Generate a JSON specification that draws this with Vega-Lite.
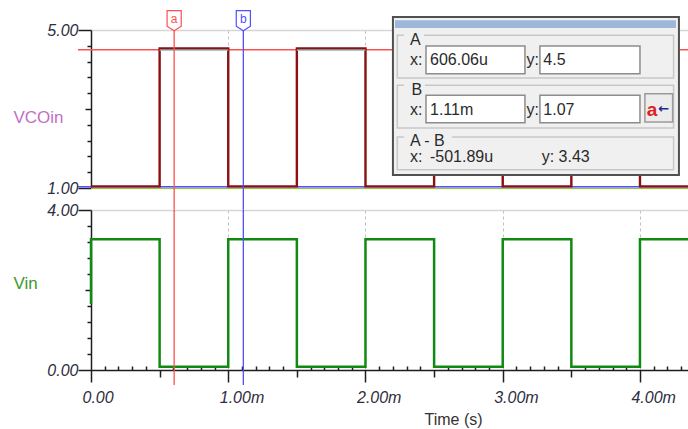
{
  "$schema": "https://vega.github.io/schema/vega-lite/v6.json",
  "background": "white",
  "padding": {"left": 13, "top": 8, "right": 0, "bottom": 2},
  "bounds": "flush",
  "spacing": 22,
  "config": {
    "view": {"stroke": null},
    "font": "Liberation Sans",
    "axis": {
      "labelFont": "Liberation Sans",
      "labelFontSize": 16,
      "labelFontStyle": "italic",
      "labelColor": "#2e2e3e",
      "titleFont": "Liberation Sans",
      "titleFontWeight": "normal",
      "domainColor": "#1e1e1e",
      "domainWidth": 1.5,
      "tickColor": "#1e1e1e",
      "tickWidth": 1.5,
      "labelOverlap": false,
      "labelFlush": false
    }
  },
  "datasets": {
    "vco": [
      {"t": 0, "v": 1.04}, {"t": 0.5, "v": 4.53}, {"t": 1.0, "v": 1.04}, {"t": 1.5, "v": 4.53},
      {"t": 2.0, "v": 1.04}, {"t": 2.5, "v": 4.53}, {"t": 3.0, "v": 1.04}, {"t": 3.5, "v": 4.53},
      {"t": 4.0, "v": 1.04}, {"t": 4.35, "v": 1.04}
    ],
    "vin": [
      {"i": 0, "t": 0, "v": 1.65}, {"i": 1, "t": 0, "v": 3.27}, {"i": 2, "t": 0.5, "v": 0.08},
      {"i": 3, "t": 1.0, "v": 3.27}, {"i": 4, "t": 1.5, "v": 0.08}, {"i": 5, "t": 2.0, "v": 3.27},
      {"i": 6, "t": 2.5, "v": 0.08}, {"i": 7, "t": 3.0, "v": 3.27}, {"i": 8, "t": 3.5, "v": 0.08},
      {"i": 9, "t": 4.0, "v": 3.27}, {"i": 10, "t": 4.35, "v": 3.27}
    ],
    "cyan": [
      {"s": 1, "t": 0.5, "v": 4.49}, {"s": 1, "t": 1.0, "v": 4.49},
      {"s": 2, "t": 1.5, "v": 4.49}, {"s": 2, "t": 2.0, "v": 4.49},
      {"s": 3, "t": 2.5, "v": 4.49}, {"s": 3, "t": 3.0, "v": 4.49},
      {"s": 4, "t": 3.5, "v": 4.49}, {"s": 4, "t": 4.0, "v": 4.49}
    ],
    "green": [{"t": 0, "v": 0.99}, {"t": 4.35, "v": 0.99}],
    "curs": [{"c": "a", "t": 0.606}, {"c": "b", "t": 1.11}],
    "hcur": [
      {"c": "a", "t0": -0.095, "t1": 4.35, "v": 4.5},
      {"c": "b", "t0": -0.095, "t1": 4.35, "v": 1.03}
    ],
    "dlg_outer": [{"x": 2.2, "x2": 4.284, "y": 5.329, "y2": 1.329}],
    "dlg_bar": [{"x": 2.215, "x2": 4.262, "y": 5.246, "y2": 5.051}],
    "dlg_group": [
      {"x": 2.232, "x2": 4.245, "y": 4.866, "y2": 3.785},
      {"x": 2.232, "x2": 4.245, "y": 3.6, "y2": 2.519},
      {"x": 2.232, "x2": 4.245, "y": 2.291, "y2": 1.463}
    ],
    "dlg_lblbg": [
      {"x": 2.28, "x2": 2.426, "y": 4.949, "y2": 4.772},
      {"x": 2.28, "x2": 2.433, "y": 3.684, "y2": 3.506},
      {"x": 2.28, "x2": 2.63, "y": 2.392, "y2": 2.19}
    ],
    "dlg_box": [
      {"x": 2.441, "x2": 3.162, "y": 4.595, "y2": 3.894},
      {"x": 3.271, "x2": 4.0, "y": 4.595, "y2": 3.894},
      {"x": 2.441, "x2": 3.162, "y": 3.347, "y2": 2.654},
      {"x": 3.271, "x2": 4.0, "y": 3.347, "y2": 2.654}
    ],
    "dlg_btn": [{"x": 4.036, "x2": 4.238, "y": 3.388, "y2": 2.671}],
    "dlg_text": [
      {"x": 2.324, "y": 4.747, "s": "A"},
      {"x": 2.324, "y": 4.253, "s": "x:"},
      {"x": 2.47, "y": 4.253, "s": "606.06u"},
      {"x": 3.174, "y": 4.253, "s": "y:"},
      {"x": 3.296, "y": 4.253, "s": "4.5"},
      {"x": 2.336, "y": 3.481, "s": "B"},
      {"x": 2.324, "y": 2.987, "s": "x:"},
      {"x": 2.47, "y": 2.987, "s": "1.11m"},
      {"x": 3.174, "y": 2.987, "s": "y:"},
      {"x": 3.296, "y": 2.987, "s": "1.07"},
      {"x": 2.324, "y": 2.19, "s": "A - B"},
      {"x": 2.324, "y": 1.785, "s": "x:"},
      {"x": 2.47, "y": 1.785, "s": "-501.89u"},
      {"x": 3.284, "y": 1.785, "s": "y: 3.43"}
    ],
    "dlg_btn_a": [{"x": 4.049, "y": 2.987, "s": "a"}],
    "dlg_btn_arrow": [{"x": 4.134, "y": 2.99, "s": "←"}]
  },
  "vconcat": [
    {
      "width": 597,
      "height": 158,
      "layer": [
        {
          "data": {"name": "green"},
          "mark": {"type": "line", "color": "#9cc23c", "strokeWidth": 1.3},
          "encoding": {
            "x": {
              "field": "t", "type": "quantitative",
              "scale": {"domain": [0, 4.35], "nice": false, "zero": false},
              "axis": {
                "values": [1, 2, 3, 4], "tickCount": 100, "labels": false, "ticks": false, "domain": false,
                "grid": true, "gridDash": [3, 3], "gridColor": "#c0c0c0", "gridWidth": 1, "title": null
              }
            },
            "y": {
              "field": "v", "type": "quantitative",
              "scale": {"domain": [1, 5], "nice": false, "zero": false},
              "axis": {
                "values": [1, 1.4, 1.8, 2.2, 2.6, 3, 3.4, 3.8, 4.2, 4.6, 5],
                "tickCount": 100,
                "labelExpr": "(datum.value==1||datum.value==5) ? format(datum.value,'.2f') : ''",
                "labelOverlap": false, "labelBound": false,
                "tickSize": {"condition": [{"test": "datum.value==1||datum.value==5", "value": 13}, {"test": "datum.value==3", "value": 6}], "value": 4},
                "labelPadding": 0,
                "labelBaseline": "middle",
                "grid": true, "gridColor": "#d6d6d6", "gridWidth": 1.5,
                "gridOpacity": {"condition": {"test": "datum.value==1||datum.value==5", "value": 1}, "value": 0},
                "title": "VCOin", "titleAngle": 0, "titleAlign": "left", "titleBaseline": "middle",
                "titleX": -78, "titleY": 87, "titleColor": "#c46ec4", "titleFontSize": 17
              }
            }
          }
        },
        {
          "data": {"name": "hcur"},
          "mark": {"type": "rule", "strokeWidth": 1.5, "clip": false},
          "encoding": {
            "x": {"field": "t0", "type": "quantitative"},
            "x2": {"field": "t1"},
            "y": {"field": "v", "type": "quantitative"},
            "color": {"field": "c", "type": "nominal", "scale": {"domain": ["a", "b"], "range": ["#ff5050", "#5050ff"]}, "legend": null}
          }
        },
        {
          "data": {"name": "vco"},
          "mark": {"type": "line", "interpolate": "step-after", "color": "#8b1010", "strokeWidth": 2.4},
          "encoding": {
            "x": {"field": "t", "type": "quantitative"},
            "y": {"field": "v", "type": "quantitative"}
          }
        },
        {
          "data": {"name": "cyan"},
          "mark": {"type": "line", "color": "#8ad6d6", "strokeWidth": 1.3},
          "encoding": {
            "x": {"field": "t", "type": "quantitative"},
            "y": {"field": "v", "type": "quantitative"},
            "detail": {"field": "s", "type": "nominal"}
          }
        },
        {
          "data": {"name": "curs"},
          "mark": {"type": "rule", "strokeWidth": 1.3, "clip": false},
          "encoding": {
            "x": {"field": "t", "type": "quantitative"},
            "y": {"datum": 5.2, "type": "quantitative"},
            "y2": {"datum": 0.39},
            "color": {"field": "c", "type": "nominal", "scale": {"domain": ["a", "b"], "range": ["#ff5050", "#5050ff"]}, "legend": null}
          }
        },
        {
          "data": {"name": "curs"},
          "mark": {"type": "point", "shape": "M-1,-1.45L1,-1.45L1,0.75L0,1.4L-1,0.75Z", "size": 200, "filled": true, "fill": "white", "strokeWidth": 1.2, "opacity": 1, "clip": false},
          "encoding": {
            "x": {"field": "t", "type": "quantitative"},
            "y": {"datum": 5.23, "type": "quantitative"},
            "stroke": {"field": "c", "type": "nominal", "scale": {"domain": ["a", "b"], "range": ["#ff5050", "#5050ff"]}, "legend": null}
          }
        },
        {
          "data": {"name": "curs"},
          "mark": {"type": "text", "fontSize": 12, "align": "center", "baseline": "middle", "clip": false},
          "encoding": {
            "x": {"field": "t", "type": "quantitative"},
            "y": {"datum": 5.275, "type": "quantitative"},
            "text": {"field": "c"},
            "color": {"field": "c", "type": "nominal", "scale": {"domain": ["a", "b"], "range": ["#ff6060", "#5050ff"]}, "legend": null}
          }
        },
        {
          "data": {"name": "dlg_outer"},
          "mark": {"type": "rect", "fill": "#f0f0f0", "stroke": "#505050", "strokeWidth": 2, "clip": false},
          "encoding": {
            "x": {"field": "x", "type": "quantitative"}, "x2": {"field": "x2"},
            "y": {"field": "y", "type": "quantitative"}, "y2": {"field": "y2"}
          }
        },
        {
          "data": {"name": "dlg_bar"},
          "mark": {"type": "rect", "fill": "#9db7da", "clip": false},
          "encoding": {
            "x": {"field": "x", "type": "quantitative"}, "x2": {"field": "x2"},
            "y": {"field": "y", "type": "quantitative"}, "y2": {"field": "y2"}
          }
        },
        {
          "data": {"name": "dlg_group"},
          "mark": {"type": "rect", "fill": "#f0f0f0", "stroke": "#c8c8c8", "strokeWidth": 1.5},
          "encoding": {
            "x": {"field": "x", "type": "quantitative"}, "x2": {"field": "x2"},
            "y": {"field": "y", "type": "quantitative"}, "y2": {"field": "y2"}
          }
        },
        {
          "data": {"name": "dlg_lblbg"},
          "mark": {"type": "rect", "fill": "#f0f0f0"},
          "encoding": {
            "x": {"field": "x", "type": "quantitative"}, "x2": {"field": "x2"},
            "y": {"field": "y", "type": "quantitative"}, "y2": {"field": "y2"}
          }
        },
        {
          "data": {"name": "dlg_box"},
          "mark": {"type": "rect", "fill": "white", "stroke": "#8c8c8c", "strokeWidth": 1.5},
          "encoding": {
            "x": {"field": "x", "type": "quantitative"}, "x2": {"field": "x2"},
            "y": {"field": "y", "type": "quantitative"}, "y2": {"field": "y2"}
          }
        },
        {
          "data": {"name": "dlg_btn"},
          "mark": {"type": "rect", "fill": "#ececec", "stroke": "#9a9a9a", "strokeWidth": 1.5},
          "encoding": {
            "x": {"field": "x", "type": "quantitative"}, "x2": {"field": "x2"},
            "y": {"field": "y", "type": "quantitative"}, "y2": {"field": "y2"}
          }
        },
        {
          "data": {"name": "dlg_text"},
          "mark": {"type": "text", "align": "left", "baseline": "middle", "fontSize": 16, "color": "#2a2a2a", "font": "Liberation Sans"},
          "encoding": {
            "x": {"field": "x", "type": "quantitative"},
            "y": {"field": "y", "type": "quantitative"},
            "text": {"field": "s"}
          }
        },
        {
          "data": {"name": "dlg_btn_a"},
          "mark": {"type": "text", "align": "left", "baseline": "middle", "fontSize": 19, "fontWeight": "bold", "color": "#e02020", "font": "Liberation Sans"},
          "encoding": {
            "x": {"field": "x", "type": "quantitative"},
            "y": {"field": "y", "type": "quantitative"},
            "text": {"field": "s"}
          }
        },
        {
          "data": {"name": "dlg_btn_arrow"},
          "mark": {"type": "text", "align": "left", "baseline": "middle", "fontSize": 13, "fontWeight": "bold", "color": "#1a2a8a", "font": "DejaVu Sans"},
          "encoding": {
            "x": {"field": "x", "type": "quantitative"},
            "y": {"field": "y", "type": "quantitative"},
            "text": {"field": "s"}
          }
        }
      ]
    },
    {
      "width": 597,
      "height": 160,
      "layer": [
        {
          "data": {"name": "vin"},
          "mark": {"type": "line", "interpolate": "step-after", "color": "#128a12", "strokeWidth": 2.5},
          "encoding": {
            "x": {
              "field": "t", "type": "quantitative",
              "scale": {"domain": [0, 4.35], "nice": false, "zero": false},
              "axis": {
                "values": [0, 0.1, 0.2, 0.3, 0.4, 0.5, 0.6, 0.7, 0.8, 0.9, 1, 1.1, 1.2, 1.3, 1.4, 1.5, 1.6, 1.7, 1.8, 1.9, 2, 2.1, 2.2, 2.3, 2.4, 2.5, 2.6, 2.7, 2.8, 2.9, 3, 3.1, 3.2, 3.3, 3.4, 3.5, 3.6, 3.7, 3.8, 3.9, 4, 4.1, 4.2, 4.3],
                "tickCount": 100,
                "labelExpr": "abs(datum.value-round(datum.value))<0.001 ? (datum.value==0 ? '0.00' : format(datum.value,'.2f')+'m') : ''",
                "labelOverlap": false, "labelBound": false,
                "labelAlign": "left", "labelOffset": -9, "labelBaseline": "top", "labelPadding": 7,
                "tickSize": {"condition": [{"test": "abs(datum.value-round(datum.value))<0.001", "value": 12}, {"test": "abs(datum.value*2-round(datum.value*2))<0.001", "value": 7}], "value": -4},
                "grid": true, "gridDash": [3, 3], "gridColor": "#c0c0c0", "gridWidth": 1,
                "gridOpacity": {"condition": {"test": "abs(datum.value-round(datum.value))<0.001 && datum.value>0", "value": 1}, "value": 0},
                "title": "Time (s)", "titleX": 362, "titleY": 54, "titleAlign": "center", "titleBaseline": "alphabetic",
                "titleFontSize": 16, "titleColor": "#333333"
              }
            },
            "y": {
              "field": "v", "type": "quantitative",
              "scale": {"domain": [0, 4], "nice": false, "zero": false},
              "axis": {
                "values": [0, 0.4, 0.8, 1.2, 1.6, 2, 2.4, 2.8, 3.2, 3.6, 4],
                "tickCount": 100,
                "labelExpr": "(datum.value==0||datum.value==4) ? format(datum.value,'.2f') : ''",
                "labelOverlap": false, "labelBound": false,
                "tickSize": {"condition": [{"test": "datum.value==0||datum.value==4", "value": 13}, {"test": "datum.value==2", "value": 6}], "value": 4},
                "labelPadding": 0,
                "labelBaseline": "middle",
                "grid": true, "gridColor": "#d6d6d6", "gridWidth": 1.5,
                "gridOpacity": {"condition": {"test": "datum.value==4", "value": 1}, "value": 0},
                "title": "Vin", "titleAngle": 0, "titleAlign": "left", "titleBaseline": "middle",
                "titleX": -78, "titleY": 73, "titleColor": "#3a9a2a", "titleFontSize": 17
              }
            },
            "order": {"field": "i", "type": "quantitative"}
          }
        },
        {
          "data": {"name": "curs"},
          "mark": {"type": "rule", "strokeWidth": 1.3, "clip": false},
          "encoding": {
            "x": {"field": "t", "type": "quantitative"},
            "y": {"datum": 4, "type": "quantitative"},
            "y2": {"datum": -0.375},
            "color": {"field": "c", "type": "nominal", "scale": {"domain": ["a", "b"], "range": ["#ff5050", "#5050ff"]}, "legend": null}
          }
        }
      ]
    }
  ]
}
